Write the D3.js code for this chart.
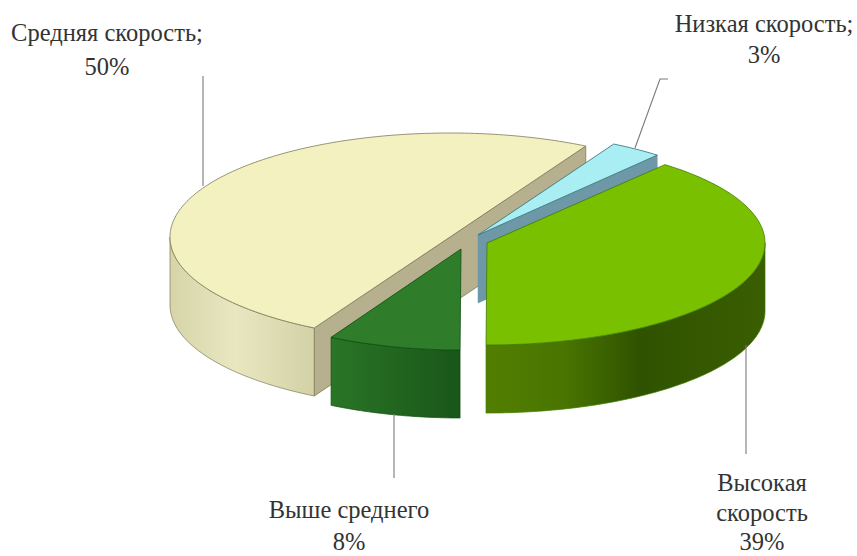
<!DOCTYPE html>
<html><head><meta charset="utf-8">
<script src="https://cdn.jsdelivr.net/npm/d3@7"></script>
<style>html,body{margin:0;padding:0;background:#fff}svg{display:block}text{font-family:"Liberation Serif",serif;fill:#333;font-size:24.5px;text-anchor:middle}</style>
</head><body><svg id="c" width="857" height="556"></svg>
<script>
const categories = ["Средняя скорость", "Низкая скорость", "Высокая скорость", "Выше среднего"];
const values = [50, 3, 39, 8];
const labelLines = [["Средняя скорость;", "50%"], ["Низкая скорость;", "3%"], ["Высокая", "скорость", "39%"], ["Выше среднего", "8%"]];
const topColors = ["#f4f1c0", "#a8eef2", "#78c000", "#2f7d2a"];
const edgeColors = ["#7d7a58", "#2f6f7a", "#3f7a00", "#0d4f10"];
const cutColors = ["#b7b08e", "#6e98a8", null, null];
const wallStops = [
  [["0%", "#d6d4a8"], ["45%", "#e9e7c0"], ["100%", "#d3d1a6"]],
  [["0%", "#6e98a8"], ["100%", "#6e98a8"]],
  [["0%", "#527f00"], ["28%", "#497500"], ["55%", "#2f5200"], ["100%", "#3a5e00"]],
  [["0%", "#2a7526"], ["100%", "#19561a"]]
];
// layout of each exploded slice: apex and ellipse radii, wall depth
const layout = [
  {cx: 450, cy: 237, rx: 280, ry: 104},
  {cx: 478, cy: 235, rx: 280, ry: 104},
  {cx: 487, cy: 243, rx: 278, ry: 102},
  {cx: 461, cy: 249, rx: 268, ry: 101}
];
const depth = 68;
const leaders = [
  [[203, 76], [203, 186]],
  [[668, 79], [660, 79], [635, 148]],
  [[746, 345], [746, 454]],
  [[394, 414], [394, 478]]
];
const labelPos = [
  {x: 107, y: 41, dy: 34},
  {x: 764, y: 32, dy: 31},
  {x: 762, y: 491, dy: 29.5},
  {x: 349, y: 518, dy: 32}
];

const deg = Math.PI / 180;
const pie = d3.pie().sort(null).startAngle(209 * deg).endAngle(569 * deg);
const arcs = pie(values);
const svg = d3.select("#c");
const defs = svg.append("defs");

function geom(i) {
  const l = layout[i];
  const x = d3.scaleLinear().domain([-1, 1]).range([l.cx - l.rx, l.cx + l.rx]);
  const y = d3.scaleLinear().domain([-1, 1]).range([l.cy - l.ry, l.cy + l.ry]);
  const pt = (a, z = 0) => [x(Math.sin(a)), y(-Math.cos(a)) + z];
  return {l, x, y, pt};
}
function sweep(a0, a1) {
  const n = Math.max(2, Math.ceil((a1 - a0) / (1 * deg)));
  return d3.range(n + 1).map(k => a0 + (a1 - a0) * k / n);
}
const line = d3.line();
const closed = d3.line().curve(d3.curveLinearClosed);
const norm = a => ((a % (2 * Math.PI)) + 2 * Math.PI) % (2 * Math.PI);

arcs.forEach((_, i) => {
  const g = defs.append("linearGradient").attr("id", "w" + i);
  wallStops[i].forEach(s => g.append("stop").attr("offset", s[0]).attr("stop-color", s[1]));
});

// painter's order: back slice first
arcs.forEach((d, i) => {
  const {pt, l} = geom(i);
  const c = [l.cx, l.cy];
  const g = svg.append("g").attr("class", "slice").attr("data-name", categories[i]);
  const span = d.endAngle - d.startAngle;
  const a0 = norm(d.startAngle), a1 = a0 + span;

  // cut faces
  if (i === 0) {
    g.append("path").attr("d", closed([pt(a0), pt(a1), pt(a1, depth), pt(a0, depth)]))
      .attr("fill", cutColors[i]).attr("stroke", edgeColors[i]).attr("stroke-width", 0.8);
  }
  if (i === 1) {
    g.append("path").attr("d", closed([c, pt(a1), pt(a1, depth), [c[0], c[1] + depth]]))
      .attr("fill", cutColors[i]).attr("stroke", cutColors[i]).attr("stroke-width", 0.5);
  }
  // outer wall: only the front half of the rim shows
  const lo = 90 * deg, hi = 270 * deg;
  const w0 = Math.max(a0, lo), w1 = Math.min(a1, hi);
  if (w1 > w0) {
    const rim = sweep(w0, w1);
    const pts = rim.map(a => pt(a)).concat(rim.slice().reverse().map(a => pt(a, depth)));
    g.append("path").attr("d", closed(pts)).attr("fill", `url(#w${i})`)
      .attr("stroke", edgeColors[i]).attr("stroke-width", 0.7);
  }
  // top face
  const topPts = (i === 0 ? [] : [c]).concat(sweep(a0, a1).map(a => pt(a)));
  g.append("path").attr("d", closed(topPts)).attr("fill", topColors[i])
    .attr("stroke", edgeColors[i]).attr("stroke-width", 0.8).attr("stroke-linejoin", "round");
});

// leader lines
leaders.forEach(p => svg.append("path").attr("d", line(p)).attr("fill", "none")
  .attr("stroke", "#7a7a7a").attr("stroke-width", 1.1));

// labels
labelLines.forEach((lines, i) => {
  const t = svg.append("text").attr("x", labelPos[i].x).attr("y", labelPos[i].y);
  lines.forEach((s, k) => t.append("tspan").attr("x", labelPos[i].x)
    .attr("y", labelPos[i].y + k * labelPos[i].dy).text(s));
});
</script></body></html>
